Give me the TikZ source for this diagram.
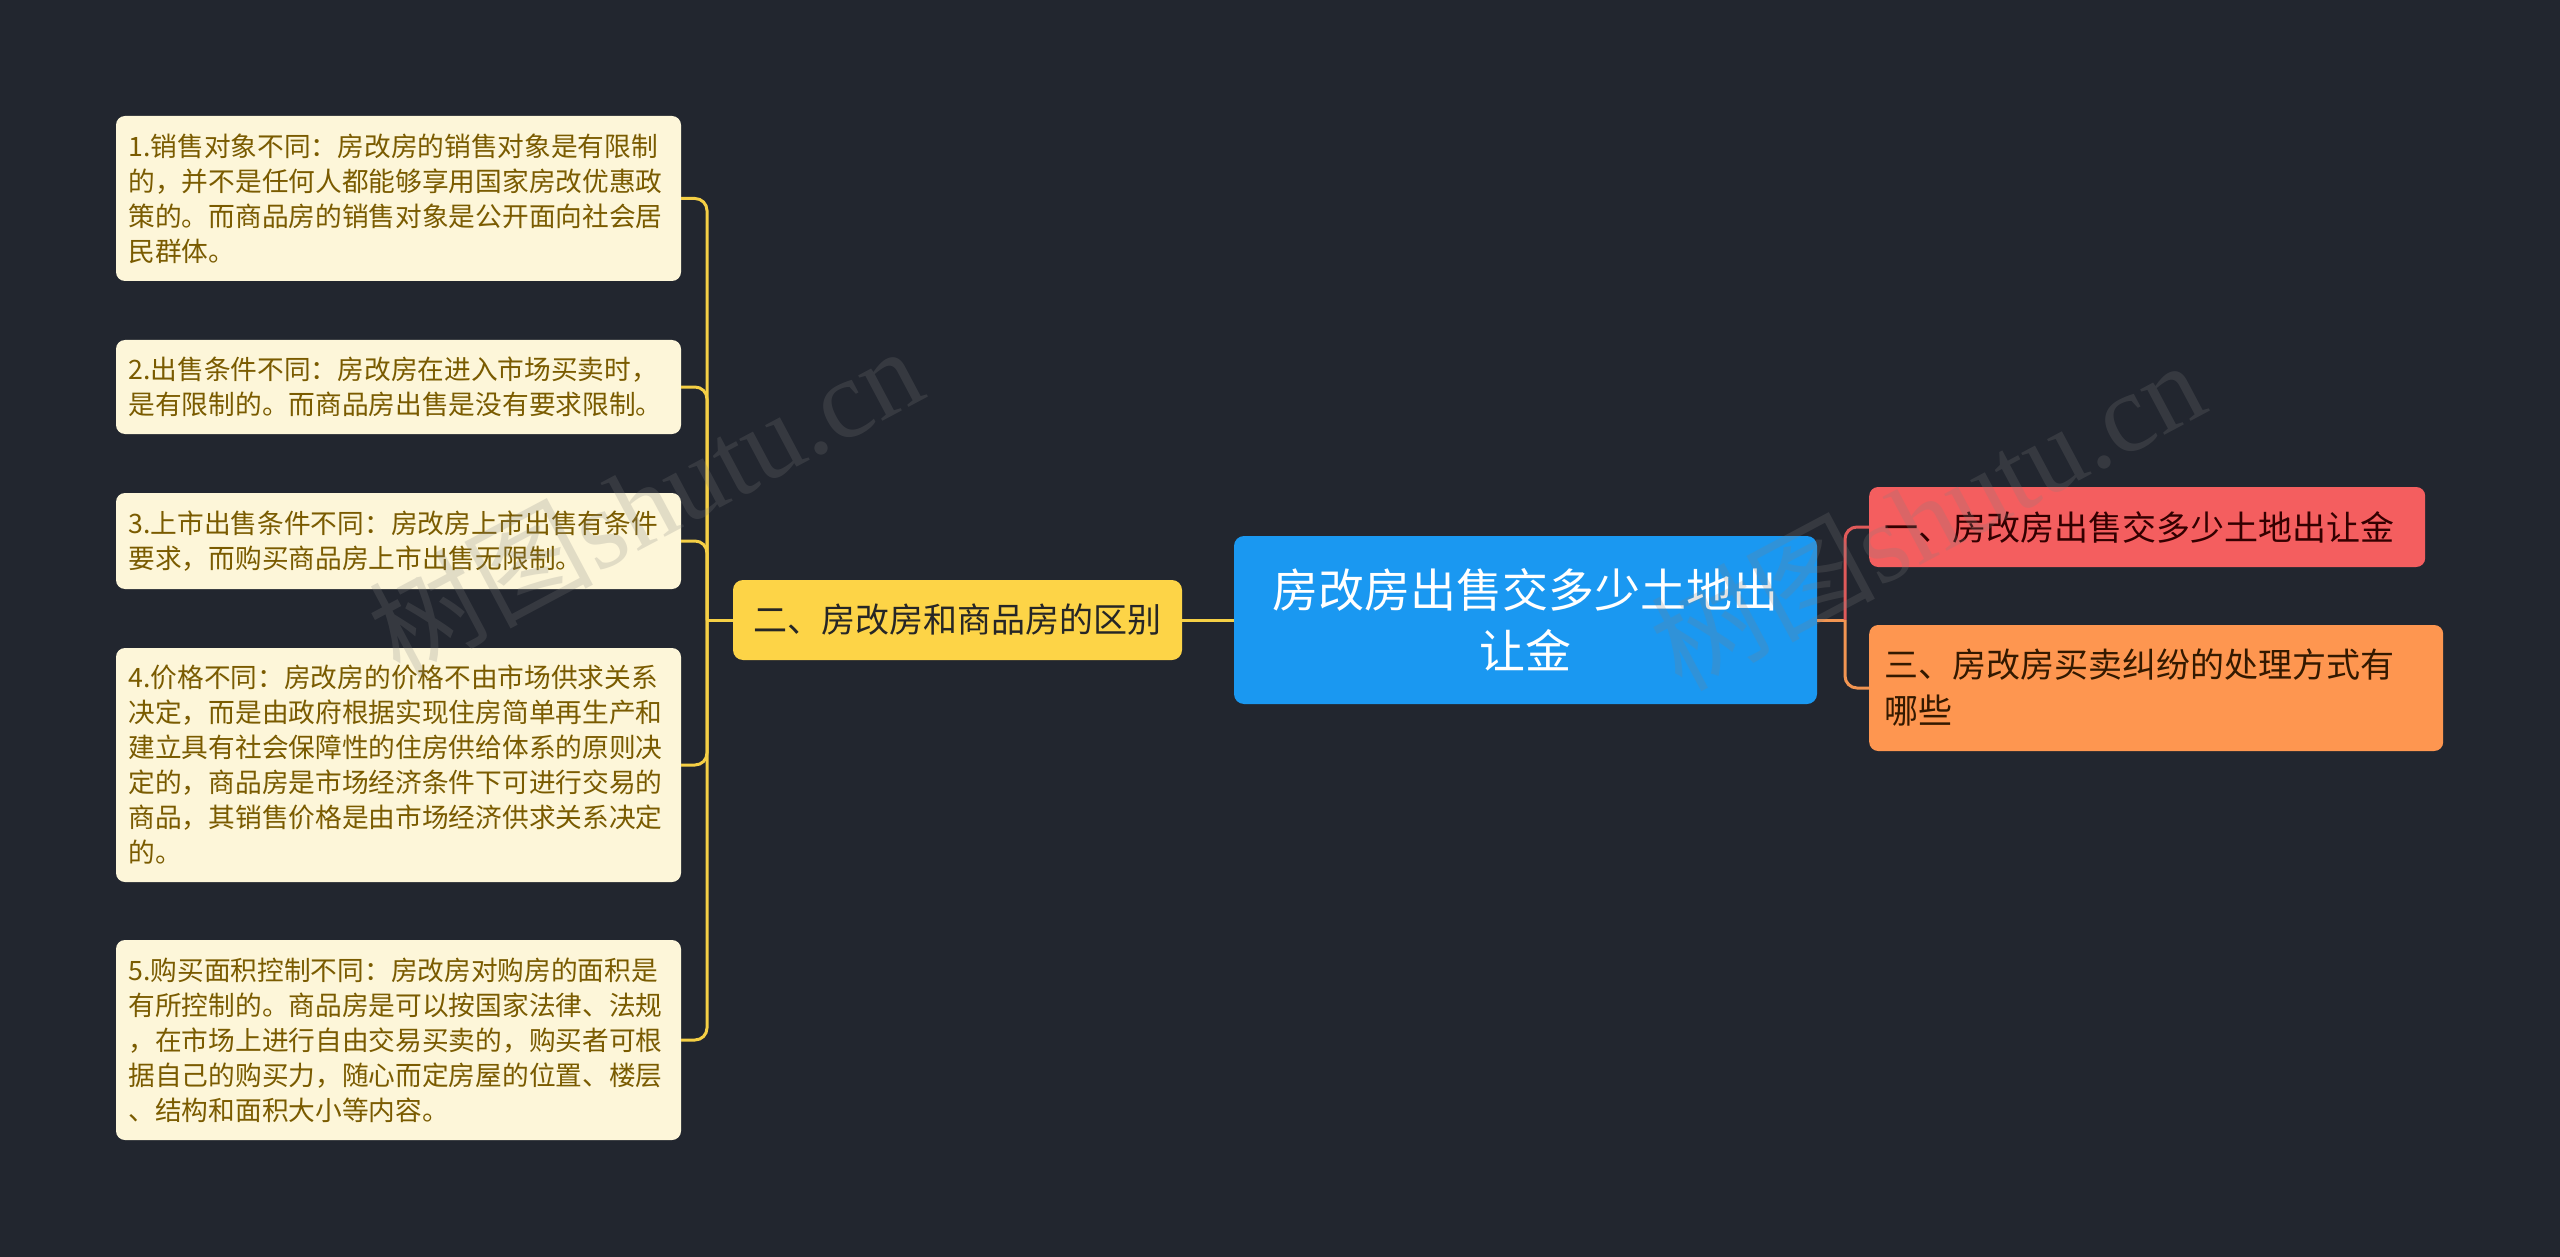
\documentclass[tikz,border=0pt]{standalone}
\usepackage{fontspec}
\setmainfont{Noto Sans CJK SC}
\newfontfamily\cjk{Noto Sans CJK SC}
\newfontfamily\wmlatin{Liberation Serif}
\definecolor{bgc}{HTML}{22262F}
\definecolor{leaffill}{HTML}{FDF6D9}
\definecolor{leaftext}{HTML}{7A5B00}
\definecolor{yelfill}{HTML}{FDD447}
\definecolor{yelline}{HTML}{F5CF45}
\definecolor{bluefill}{HTML}{1A98F1}
\definecolor{redfill}{HTML}{F45E5F}
\definecolor{redline}{HTML}{E05A5A}
\definecolor{orafill}{HTML}{FE9650}
\definecolor{oraline}{HTML}{F29552}
\begin{document}
\begin{tikzpicture}[x=1pt,y=-1pt,
  leafbox/.style={fill=leaffill, text=leaftext, rounded corners=9pt, text width=540pt,
    inner xsep=12.5pt, inner ysep=0pt, align=left, minimum width=565pt,
    font=\cjk\fontsize{26.7}{35}\selectfont},
  yelbox/.style={fill=yelfill, text=black!85, rounded corners=10pt, minimum width=449pt,
    minimum height=80pt, inner sep=0pt, font=\cjk\fontsize{34}{44}\selectfont},
  bluebox/.style={fill=bluefill, text=white, rounded corners=10pt, minimum width=583pt,
    minimum height=168pt, text width=530pt, align=center, inner sep=0pt,
    font=\cjk\fontsize{46}{61}\selectfont},
  redbox/.style={fill=redfill, text=black!80!red, rounded corners=9pt, minimum width=556pt,
    minimum height=80pt, text width=526pt, inner xsep=15pt, inner ysep=0pt, align=left,
    font=\cjk\fontsize{34}{46}\selectfont},
  orabox/.style={fill=orafill, text=black!80!orange, rounded corners=9pt, minimum width=574pt,
    minimum height=126pt, text width=544pt, inner xsep=15pt, inner ysep=0pt, align=left,
    font=\cjk\fontsize{34}{46}\selectfont},
  yconn/.style={draw=yelline, line width=3pt, rounded corners=12pt},
  rconn/.style={draw=redline, line width=3pt, rounded corners=12pt},
  oconn/.style={draw=oraline, line width=3pt, rounded corners=12pt},
  wmark/.style={text=gray, opacity=0.22, rotate=28, font=\fontsize{112}{120}\selectfont}
]
\fill[bgc] (0,0) rectangle (2560,1257);
\useasboundingbox (0,0) rectangle (2560,1257);

\node[leafbox, minimum height=165pt] (l1) at (398.5,198.5) {1.销售对象不同：房改房的销售对象是有限制\\的，并不是任何人都能够享用国家房改优惠政\\策的。而商品房的销售对象是公开面向社会居\\民群体。};
\node[leafbox, minimum height=94pt] (l2) at (398.5,387) {2.出售条件不同：房改房在进入市场买卖时，\\是有限制的。而商品房出售是没有要求限制。};
\node[leafbox, minimum height=96pt] (l3) at (398.5,541) {3.上市出售条件不同：房改房上市出售有条件\\要求，而购买商品房上市出售无限制。};
\node[leafbox, minimum height=234pt] (l4) at (398.5,765) {4.价格不同：房改房的价格不由市场供求关系\\决定，而是由政府根据实现住房简单再生产和\\建立具有社会保障性的住房供给体系的原则决\\定的，商品房是市场经济条件下可进行交易的\\商品，其销售价格是由市场经济供求关系决定\\的。};
\node[leafbox, minimum height=200pt] (l5) at (398.5,1040) {5.购买面积控制不同：房改房对购房的面积是\\有所控制的。商品房是可以按国家法律、法规\\，在市场上进行自由交易买卖的，购买者可根\\据自己的购买力，随心而定房屋的位置、楼层\\、结构和面积大小等内容。};

\node[yelbox] (y) at (957.5,620) {二、房改房和商品房的区别};
\node[bluebox] (c) at (1525.5,620) {房改房出售交多少土地出\\让金};
\node[redbox, anchor=west] (r1) at (1869,527) {一、房改房出售交多少土地出让金};
\node[orabox, anchor=west] (r2) at (1869,688) {三、房改房买卖纠纷的处理方式有\\哪些};

\coordinate (ls) at (707,620);
\coordinate (rs) at (1845,620);

\draw[yconn] (c.west) -- (y.east);
\draw[yconn] (y.west) -- (ls);
\foreach \n in {l1,l2,l3,l4,l5} { \draw[yconn] (\n.east) -| (ls); }

\draw[oconn] (c.east) -- (rs);
\draw[rconn] (r1.west) -| (rs);
\draw[oconn] (r2.west) -| (rs);

\node[wmark] (w1) at (645,500) {\cjk 树图\wmlatin shutu.cn};
\node[wmark] (w2) at (1927,514) {\cjk 树图\wmlatin shutu.cn};
\end{tikzpicture}
\end{document}
